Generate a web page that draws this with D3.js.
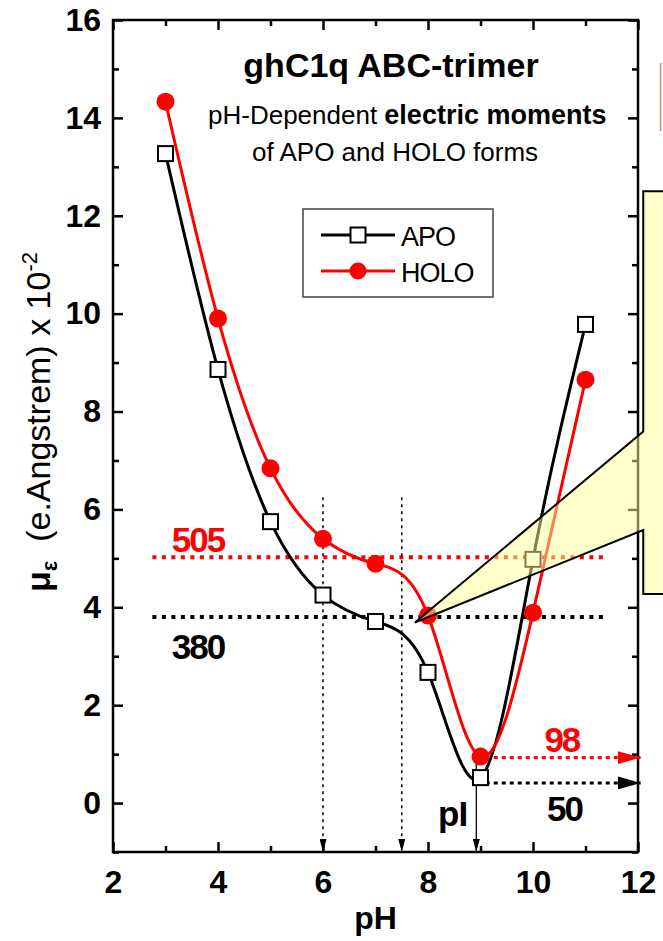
<!DOCTYPE html>
<html>
<head>
<meta charset="utf-8">
<script src="https://cdn.jsdelivr.net/npm/d3@7"></script>
<style>
  body { margin: 0; background: #fff; }
  text { font-family: "Liberation Sans", Arial, sans-serif; }
</style>
</head>
<body>
<div id="plot"></div>
<script>
// values
const pH = [3, 4, 5, 6, 7, 8, 9, 10, 11];
const apo = [13.27, 8.86, 5.75, 4.25, 3.71, 2.67, 0.52, 4.98, 9.78];
const holo = [14.33, 9.90, 6.84, 5.40, 4.89, 3.83, 0.95, 3.89, 8.65];
const seriesNames = ['APO', 'HOLO'];
const xMajor = [2, 4, 6, 8, 10, 12];
const xMinor = [3, 5, 7, 9, 11];
const yMajor = [0, 2, 4, 6, 8, 10, 12, 14, 16];
const yMinor = [-1, 1, 3, 5, 7, 9, 11, 13, 15];
const refValues = [5.02, 3.80];
const refLabels = ['505', '380'];
const dropPH = [6, 7.5];
const pI = 8.92;
const minValues = [0.93, 0.41];
const minLabels = ['98', '50'];

const W = 663, H = 941;
const svg = d3.select('#plot').append('svg').attr('width', W).attr('height', H);

const x = d3.scaleLinear().domain([2, 12]).range([113, 638]);
const y = d3.scaleLinear().domain([-1, 16]).range([852, 20]);

// arrow heads
const defs = svg.append('defs');
function marker(id, color, len, half) {
  defs.append('marker')
    .attr('id', id)
    .attr('markerUnits', 'userSpaceOnUse')
    .attr('viewBox', `0 ${-half} ${len} ${2 * half}`)
    .attr('refX', len).attr('refY', 0)
    .attr('markerWidth', len).attr('markerHeight', 2 * half)
    .attr('orient', 'auto')
    .append('path')
    .attr('d', `M0,${-half}L${len},0L0,${half}Z`)
    .attr('fill', color);
}
marker('arrSmall', '#000', 13, 3.5);
marker('arrRed', '#ff0000', 23, 6.5);
marker('arrBlack', '#000', 23, 6.5);

// axes: ticks pointing in on all four sides
function axis(fn, scale, values, size, transform, labels, pad) {
  const g = svg.append('g')
    .attr('transform', transform)
    .call(fn(scale).tickValues(values).tickSize(-size).tickPadding(pad || 0)
      .tickFormat(labels ? d3.format('d') : ''));
  g.select('.domain').remove();
  g.selectAll('line').attr('stroke', '#000').attr('stroke-width', 2.5);
  g.selectAll('text')
    .attr('fill', '#000')
    .style('font-family', '"Liberation Sans", Arial, sans-serif')
    .style('font-size', '32px')
    .style('font-weight', 'bold');
  return g;
}
axis(d3.axisBottom, x, xMajor, 10, `translate(0,${y(-1)})`, true, 18);
axis(d3.axisBottom, x, xMinor, 6, `translate(0,${y(-1)})`, false);
axis(d3.axisTop, x, xMajor, 10, `translate(0,${y(16)})`, false);
axis(d3.axisTop, x, xMinor, 6, `translate(0,${y(16)})`, false);
axis(d3.axisLeft, y, yMajor, 10, `translate(${x(2)},0)`, true, 12);
axis(d3.axisLeft, y, yMinor, 6, `translate(${x(2)},0)`, false);
axis(d3.axisRight, y, yMajor, 10, `translate(${x(12)},0)`, false);
axis(d3.axisRight, y, yMinor, 6, `translate(${x(12)},0)`, false);

svg.append('rect')
  .attr('x', x(2)).attr('y', y(16))
  .attr('width', x(12) - x(2)).attr('height', y(-1) - y(16))
  .attr('fill', 'none').attr('stroke', '#000').attr('stroke-width', 2.5);

// axis titles
svg.append('text')
  .attr('x', (x(2) + x(12)) / 2).attr('y', 929)
  .attr('text-anchor', 'middle')
  .style('font-size', '32px').style('font-weight', 'bold')
  .text('pH');

const yl = svg.append('text')
  .attr('transform', `translate(50,${422}) rotate(-90)`)
  .attr('text-anchor', 'middle')
  .style('font-size', '34px');
yl.append('tspan').style('font-weight', 'bold').text('μ');
yl.append('tspan').attr('dy', 7).style('font-size', '22px').style('font-weight', 'bold').text('ε');
yl.append('tspan').attr('dy', -7).text('\u00a0\u00a0(e.Angstrem) x 10');
yl.append('tspan').attr('dy', -13).style('font-size', '22px').text('-2');

// reference levels
const colors = ['#ff0000', '#000000'];
refValues.forEach((v, i) => {
  svg.append('line')
    .attr('x1', x(2.75)).attr('x2', x(11.35))
    .attr('y1', y(v)).attr('y2', y(v))
    .attr('stroke', colors[i]).attr('stroke-width', 4)
    .attr('stroke-dasharray', '4,5.5');
});
svg.append('text')
  .attr('x', x(3.62)).attr('y', y(refValues[0]) - 5)
  .attr('text-anchor', 'middle').attr('fill', '#ff0000')
  .style('font-size', '35px').style('font-weight', 'bold').style('letter-spacing', '-2px')
  .text(refLabels[0]);
svg.append('text')
  .attr('x', x(3.62)).attr('y', y(refValues[1]) + 42)
  .attr('text-anchor', 'middle').attr('fill', '#000')
  .style('font-size', '35px').style('font-weight', 'bold').style('letter-spacing', '-2px')
  .text(refLabels[1]);

// vertical dotted drops
dropPH.forEach(p => {
  svg.append('line')
    .attr('x1', x(p)).attr('x2', x(p))
    .attr('y1', y(6.25)).attr('y2', y(-1))
    .attr('stroke', '#000').attr('stroke-width', 1.5)
    .attr('stroke-dasharray', '3,4')
    .attr('marker-end', 'url(#arrSmall)');
});

// curves
const line = d3.line().x(d => x(d[0])).y(d => y(d[1])).curve(d3.curveNatural);
const apoPts = pH.map((p, i) => [p, apo[i]]);
const holoPts = pH.map((p, i) => [p, holo[i]]);

svg.append('path').attr('d', line(apoPts))
  .attr('fill', 'none').attr('stroke', '#000').attr('stroke-width', 3);
svg.append('path').attr('d', line(holoPts))
  .attr('fill', 'none').attr('stroke', '#ff0000').attr('stroke-width', 3);

// pI arrow
svg.append('line')
  .attr('x1', x(pI)).attr('x2', x(pI))
  .attr('y1', y(holo[6])).attr('y2', y(-1))
  .attr('stroke', '#000').attr('stroke-width', 1.3)
  .attr('marker-end', 'url(#arrSmall)');
svg.append('text')
  .attr('x', x(8.47)).attr('y', 826)
  .attr('text-anchor', 'middle')
  .style('font-size', '35px').style('font-weight', 'bold').style('letter-spacing', '-1px')
  .text('pI');

// horizontal arrows to the right axis
const arrIds = ['arrRed', 'arrBlack'];
minValues.forEach((v, i) => {
  svg.append('line')
    .attr('x1', x(9.1)).attr('x2', x(12.05))
    .attr('y1', y(v)).attr('y2', y(v))
    .attr('stroke', colors[i]).attr('stroke-width', 3)
    .attr('stroke-dasharray', '4,4')
    .attr('marker-end', `url(#${arrIds[i]})`);
});
svg.append('text')
  .attr('x', x(10.55)).attr('y', y(minValues[0]) - 6)
  .attr('text-anchor', 'middle').attr('fill', '#ff0000')
  .style('font-size', '35px').style('font-weight', 'bold').style('letter-spacing', '-2px')
  .text(minLabels[0]);
svg.append('text')
  .attr('x', x(10.6)).attr('y', y(minValues[1]) + 38)
  .attr('text-anchor', 'middle').attr('fill', '#000')
  .style('font-size', '35px').style('font-weight', 'bold').style('letter-spacing', '-2px')
  .text(minLabels[1]);

// markers
svg.selectAll('.sq').data(apoPts).enter().append('rect')
  .attr('x', d => x(d[0]) - 7.5).attr('y', d => y(d[1]) - 7.5)
  .attr('width', 15).attr('height', 15)
  .attr('fill', '#fff').attr('stroke', '#000').attr('stroke-width', 2);
svg.selectAll('.dot').data(holoPts).enter().append('circle')
  .attr('cx', d => x(d[0])).attr('cy', d => y(d[1])).attr('r', 9)
  .attr('fill', '#ff0000');

// callout box (semi transparent, cut off at the right edge)
const callout = [[12.1, 12.5], [12.1, 7.59], [7.75, 3.69], [12.1, 5.58], [12.1, 4.27], [13, 4.27], [13, 12.5]];
svg.append('path')
  .attr('d', d3.line().x(d => x(d[0])).y(d => y(d[1]))(callout) + 'Z')
  .attr('fill', '#ffff99').attr('fill-opacity', 0.5)
  .attr('stroke', '#000').attr('stroke-width', 2);

svg.append('line')
  .attr('x1', x(12.43)).attr('x2', x(12.43))
  .attr('y1', y(15.12)).attr('y2', y(13.73))
  .attr('stroke', '#e08080').attr('stroke-width', 1.5);

// title
svg.append('text')
  .attr('x', 391).attr('y', 77)
  .attr('text-anchor', 'middle')
  .style('font-size', '34px').style('font-weight', 'bold')
  .text('ghC1q ABC-trimer');
const sub = svg.append('text')
  .attr('x', 208).attr('y', 124)
  .style('font-size', '26px');
sub.append('tspan').text('pH-Dependent ');
sub.append('tspan').style('font-weight', 'bold').style('font-size', '27px').text('electric moments');
svg.append('text')
  .attr('x', 252).attr('y', 161)
  .style('font-size', '26px')
  .text('of APO and HOLO forms');

// legend
const lg = svg.append('g');
lg.append('rect')
  .attr('x', 303).attr('y', 209).attr('width', 190).attr('height', 88)
  .attr('fill', '#fff').attr('stroke', '#444').attr('stroke-width', 1.5);
seriesNames.forEach((name, i) => {
  const cy = 235 + i * 36;
  lg.append('line')
    .attr('x1', 321).attr('x2', 395).attr('y1', cy).attr('y2', cy)
    .attr('stroke', colors[1 - i]).attr('stroke-width', 3);
  if (i === 0) {
    lg.append('rect')
      .attr('x', 358 - 7.5).attr('y', cy - 7.5).attr('width', 15).attr('height', 15)
      .attr('fill', '#fff').attr('stroke', '#000').attr('stroke-width', 2);
  } else {
    lg.append('circle').attr('cx', 358).attr('cy', cy).attr('r', 8.5).attr('fill', '#ff0000');
  }
  lg.append('text')
    .attr('x', 401).attr('y', cy + 11)
    .style('font-size', '27px').style('letter-spacing', '-1px')
    .text(name);
});
</script>
</body>
</html>
